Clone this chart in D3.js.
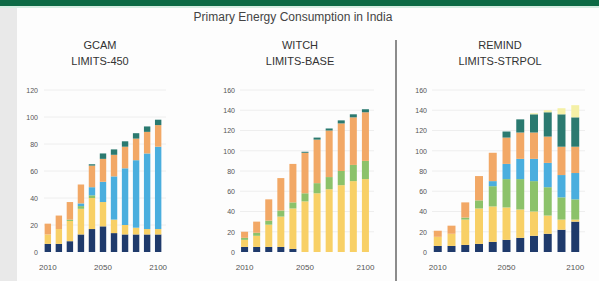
<!DOCTYPE html>
<html>
<head>
<meta charset="utf-8">
<script src="https://cdn.jsdelivr.net/npm/d3@7"></script>
<style>
  body { margin: 0; background: #fdfdfd; }
  svg { display: block; }
</style>
</head>
<body>
<script>
// years on the x axis, and which of them get a label
var years = ["2010", "2015", "2020", "2030", "2040", "2050", "2060", "2070", "2080", "2090", "2100"];
var yearLabels = ["2010", "2050", "2100"];

// stack order, bottom to top
var seriesNames = ["Coal", "Oil", "Biomass", "Coal w/ CCS", "Gas", "Nuclear", "Solar"];
var seriesColors = ["#1f3a6b", "#f8d066", "#8cc26a", "#4aaede", "#f2a866", "#2b7a70", "#f4f0a6"];

// GCAM LIMITS-450
var gcam = [
  [6, 6, 8, 13, 17, 19, 14, 13, 13, 13, 13],
  [7, 11, 15, 19, 23, 18, 10, 7, 5, 4, 4],
  [0, 0, 1, 2, 2, 0, 0, 0, 0, 0, 0],
  [0, 0, 0, 2, 6, 15, 32, 42, 50, 56, 61],
  [8, 10, 13, 14, 16, 17, 16, 16, 16, 16, 16],
  [0, 0, 0, 0, 1, 4, 4, 4, 4, 4, 4],
  [0, 0, 0, 0, 0, 0, 0, 0, 0, 0, 0]
];
// WITCH LIMITS-BASE
var witch = [
  [5, 5, 5, 5, 3, 0, 0, 0, 0, 0, 0],
  [7, 11, 22, 30, 40, 50, 58, 62, 66, 70, 72],
  [2, 3, 4, 6, 6, 8, 10, 12, 14, 16, 18],
  [0, 0, 0, 0, 0, 0, 0, 0, 0, 0, 0],
  [6, 11, 21, 32, 38, 40, 43, 46, 47, 47, 48],
  [0, 0, 0, 0, 0, 1, 2, 2, 3, 3, 3],
  [0, 0, 0, 0, 0, 0, 0, 0, 0, 0, 0]
];
// REMIND LIMITS-STRPOL
var remind = [
  [6, 6, 7, 8, 10, 12, 14, 16, 18, 22, 30],
  [9, 12, 25, 35, 35, 32, 28, 24, 18, 10, 2],
  [0, 0, 2, 8, 20, 28, 30, 30, 28, 22, 20],
  [0, 0, 0, 0, 5, 15, 20, 22, 24, 22, 26],
  [6, 8, 15, 24, 28, 26, 26, 26, 26, 28, 26],
  [0, 0, 0, 0, 0, 6, 13, 18, 24, 32, 29],
  [0, 0, 0, 0, 0, 0, 0, 1, 2, 6, 12]
];

var gcamTicks = [0, 20, 40, 60, 80, 100, 120];
var otherTicks = [0, 20, 40, 60, 80, 100, 120, 140, 160];

var panels = [
  {model: "GCAM", scen: "LIMITS-450", values: gcam, ticks: gcamTicks, x0: 40, x1: 166, labelX: 40, cx: 100},
  {model: "WITCH", scen: "LIMITS-BASE", values: witch, ticks: otherTicks, x0: 236, x1: 374, labelX: 237, cx: 300},
  {model: "REMIND", scen: "LIMITS-STRPOL", values: remind, ticks: otherTicks, x0: 428, x1: 585, labelX: 429, cx: 500}
];

var width = 599, height = 281;
var svg = d3.select("body").append("svg")
  .attr("width", width)
  .attr("height", height)
  .style("font-family", "Liberation Sans, Arial, sans-serif");

svg.append("rect").attr("width", width).attr("height", height).attr("fill", "#fdfdfd");
// grey strip on the left and green band at the top
svg.append("rect").attr("x", 0).attr("y", 0).attr("width", 17).attr("height", height).attr("fill", "#e9e9e9");
svg.append("rect").attr("x", 0).attr("y", 0).attr("width", width).attr("height", 6).attr("fill", "#0d6a45");
svg.append("rect").attr("x", 0).attr("y", 6).attr("width", width).attr("height", 2).attr("fill", "#d6ede2");

svg.append("text")
  .attr("x", 293).attr("y", 21)
  .attr("text-anchor", "middle")
  .attr("font-size", "12px")
  .attr("fill", "#444")
  .text("Primary Energy Consumption in India");

// divider between the second and third panel
svg.append("line")
  .attr("x1", 396).attr("x2", 396).attr("y1", 40).attr("y2", height)
  .attr("stroke", "#666").attr("stroke-width", 1.5);

var yTop = 90, yBase = 252;

panels.forEach(function(p) {
  var g = svg.append("g");

  g.append("text").attr("x", p.cx).attr("y", 49)
    .attr("text-anchor", "middle").attr("font-size", "11px").attr("fill", "#333")
    .text(p.model);
  g.append("text").attr("x", p.cx).attr("y", 65)
    .attr("text-anchor", "middle").attr("font-size", "11px").attr("fill", "#333")
    .text(p.scen);

  var xScale = d3.scaleBand().domain(years).range([p.x0, p.x1]).padding(0.42);
  var yScale = d3.scaleLinear().domain([0, d3.max(p.ticks)]).range([yBase, yTop]);

  // gridlines
  g.selectAll(".grid").data(p.ticks.slice(1)).enter().append("line")
    .attr("x1", p.x0 + 4).attr("x2", p.x1)
    .attr("y1", function(d) { return yScale(d); })
    .attr("y2", function(d) { return yScale(d); })
    .attr("stroke", "#eeeeee");

  // y axis
  var yAxis = g.append("g")
    .attr("transform", "translate(" + p.labelX + ",0)")
    .call(d3.axisLeft(yScale).tickValues(p.ticks).tickSize(0).tickPadding(2));
  yAxis.select(".domain").remove();
  yAxis.selectAll("text").attr("font-size", "7px").attr("fill", "#555");

  // x axis
  var xAxis = g.append("g")
    .attr("transform", "translate(0," + yBase + ")")
    .call(d3.axisBottom(xScale).tickValues(yearLabels).tickSize(0).tickPadding(12));
  xAxis.select(".domain").remove();
  xAxis.selectAll("text").attr("font-size", "8px").attr("fill", "#555");

  // stacked bars
  var rows = years.map(function(yr, i) {
    var r = {year: yr};
    seriesNames.forEach(function(s, k) { r[s] = p.values[k][i]; });
    return r;
  });
  var stacked = d3.stack().keys(seriesNames)(rows);

  g.selectAll(".layer").data(stacked).enter().append("g")
    .attr("fill", function(d, k) { return seriesColors[k]; })
    .selectAll("rect").data(function(d) { return d; }).enter().append("rect")
    .attr("x", function(d) { return xScale(d.data.year); })
    .attr("width", xScale.bandwidth())
    .attr("y", function(d) { return yScale(d[1]); })
    .attr("height", function(d) { return yScale(d[0]) - yScale(d[1]); });
});
</script>
</body>
</html>
